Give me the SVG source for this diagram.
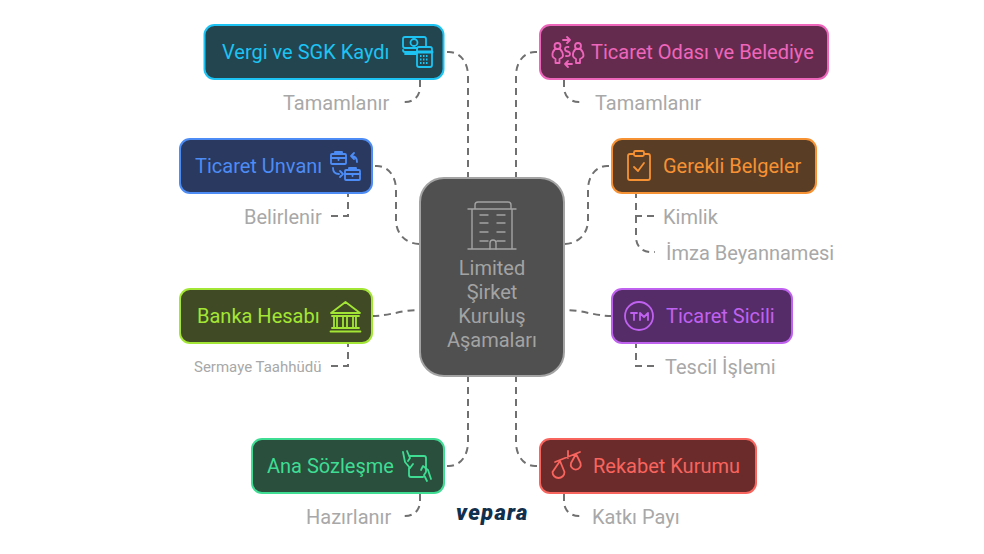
<svg xmlns="http://www.w3.org/2000/svg" width="984" height="554" viewBox="0 0 984 554">
<style>
text{font-family:Roboto,"Liberation Sans",sans-serif;font-size:20px}
.n{stroke-width:2}
.c{fill:none;stroke:#707070;stroke-width:2;stroke-dasharray:7 5}
.s{fill:#a8a8a8}
.i{fill:none;stroke-width:1.8;stroke-linecap:round;stroke-linejoin:round}
</style>
<rect width="984" height="554" fill="#fff"/>
<g id="connectors">
<path class="c" d="M447 52H449C460 52 468 62 468 76V178"/>
<path class="c" d="M537 52H535C524 52 516 62 516 76V178"/>
<path class="c" d="M375 166H377C388 166 396 176 396 190V220C396 234 406 244 420 244"/>
<path class="c" d="M609 166H607C596 166 588 176 588 190V220C588 234 578 244 564 244"/>
<path class="c" d="M372 316C390 316 400 310 420 310"/>
<path class="c" d="M612 316C594 316 584 310 564 310"/>
<path class="c" d="M447 466H449C460 466 468 456 468 442V376"/>
<path class="c" d="M537 466H535C524 466 516 456 516 442V376"/>
<path class="c" d="M420 80V87C420 96 414 102 405 102H402"/>
<path class="c" d="M564 80V87C564 96 570 102 579 102H583"/>
<path class="c" d="M331 216H348V194"/>
<path class="c" d="M654 216H636V194"/>
<path class="c" d="M636 216V237C636 246 642 252 651 252H655"/>
<path class="c" d="M331 366H348V344"/>
<path class="c" d="M654 366H636V344"/>
<path class="c" d="M420 494V501C420 510 414 516 405 516H402"/>
<path class="c" d="M564 494V501C564 510 570 516 579 516H583"/>
</g>
<g id="center">
<rect class="n" x="420" y="178" width="144" height="198" rx="24" fill="#505050" stroke="#a3a3a3"/>
<g class="i" stroke="#a3a3a3" style="stroke-width:1.4">
<path d="M468 209H516M475 209V205Q475 202 478 202H508Q511 202 511 205V209M472 209V249M512 209V249M468 249H516"/>
<path d="M480 215H488M497 215H505M480 223H488M497 223H505M480 232H488M497 232H505M480 241H488M497 241H505M490 249V243Q490 240 493 240Q496 240 496 243V249"/>
</g>
<g fill="#a3a3a3" text-anchor="middle">
<text x="492" y="275">Limited</text>
<text x="492" y="299">Şirket</text>
<text x="492" y="323">Kuruluş</text>
<text x="492" y="347">Aşamaları</text>
</g>
</g>
<g id="vergi">
<rect class="n" x="204.500" y="25" width="239" height="54" rx="10" fill="#22454f" stroke="#1cc3f3"/>
<text x="222" y="59" fill="#1cc3f3">Vergi ve SGK Kaydı</text>
<g class="i" stroke="#1cc3f3">
<rect x="403" y="37" width="23" height="11" rx="2"/>
<circle cx="414" cy="42.500" r="3.500"/>
<path d="M403 50Q403 52 405 52H417M405 54H417"/>
<rect x="417" y="47" width="15" height="20" rx="2" fill="#22454f"/>
<path d="M417 52H432" style="stroke-width:3"/>
<path d="M420 56H429M420 59.500H429M420 63H429" stroke-dasharray="1.500 1.500" stroke-linecap="butt"/>
</g>
</g>
<text class="s" x="283" y="110">Tamamlanır</text>
<g id="odasi">
<rect class="n" x="540" y="25" width="288" height="54" rx="10" fill="#642b4f" stroke="#ee66bb"/>
<text x="591" y="59" fill="#ee66bb">Ticaret Odası ve Belediye</text>
<g class="i" stroke="#ee66bb">
<circle cx="557.500" cy="46" r="3"/><circle cx="578" cy="46" r="3"/>
<path d="M555 49Q552 52 552.500 56Q553 58 555.500 59V63H559.500V59Q562.500 58 563 56Q563 52 560 49ZM575.500 49Q572.500 52 573 56Q573.500 58 576 59V63H580V59Q583 58 583.500 56Q583.500 52 580.500 49Z"/>
<path d="M563 40H570M567 37L570 40L567 43M572 64H565M568 61L565 64L568 67M568.500 47Q565 46.500 565 49Q565 51 567.500 51.500Q570 52 570 54Q570 56.500 566 56"/>
</g>
</g>
<text class="s" x="595" y="110">Tamamlanır</text>
<g id="unvan">
<rect class="n" x="180" y="139" width="192" height="54" rx="10" fill="#29395f" stroke="#4d8cf5"/>
<text x="195" y="173" fill="#4d8cf5">Ticaret Unvanı</text>
<g class="i" stroke="#4d8cf5">
<rect x="331" y="154" width="15" height="10" rx="1"/><path d="M335 154V152H342V154M331 158H346M338.500 158V160"/>
<rect x="345" y="170" width="15" height="10" rx="1"/><path d="M349 170V168H356V170M345 174H360M352.500 174V176"/>
<path d="M357 162Q357 156 351 156M354 153L351 156L354 159M333 168Q333 174 339 174M340 171L343 174L340 177"/>
</g>
</g>
<text class="s" x="244" y="224">Belirlenir</text>
<g id="belgeler">
<rect class="n" x="612" y="139" width="204" height="54" rx="10" fill="#5a3d25" stroke="#f79234"/>
<text x="663" y="173" fill="#f79234">Gerekli Belgeler</text>
<g class="i" stroke="#f79234">
<rect x="628" y="154" width="22" height="26" rx="2"/>
<rect x="634" y="151" width="10" height="5" rx="1.500" fill="#5a3d25"/>
<path d="M634 167L638 171L644 163"/>
</g>
</g>
<text class="s" x="663" y="224">Kimlik</text>
<text class="s" x="666" y="260">İmza Beyannamesi</text>
<g id="banka">
<rect class="n" x="180" y="289" width="192" height="54" rx="10" fill="#404a24" stroke="#a3e635"/>
<text x="197" y="323" fill="#a3e635">Banka Hesabı</text>
<g class="i" stroke="#a3e635">
<path d="M331 313L345.500 302L360 313ZM332 316H359M334 316V327M337 316V327M343 316V327M347 316V327M353 316V327M356 316V327M332 328H359M330.500 331.500H360.500"/>
</g>
</g>
<text class="s" x="194" y="372" style="font-size:15px">Sermaye Taahhüdü</text>
<g id="sicil">
<rect class="n" x="612" y="289" width="180" height="54" rx="10" fill="#552b68" stroke="#c062f0"/>
<text x="666" y="323" fill="#c062f0">Ticaret Sicili</text>
<g class="i" stroke="#c062f0">
<circle cx="639" cy="316" r="14"/>
<path d="M631 313H637M634 313V320M640 320V313L644 317L648 313V320"/>
</g>
</g>
<text class="s" x="665" y="374">Tescil İşlemi</text>
<g id="sozlesme">
<rect class="n" x="252" y="439" width="192" height="54" rx="10" fill="#2a4f3d" stroke="#3fdc94"/>
<text x="267" y="473" fill="#3fdc94">Ana Sözleşme</text>
<g class="i" stroke="#3fdc94">
<path d="M409 456H424Q426 456 426 458V472M409 468V475Q409 477 411 477H423M403 452L405 462L410 468L413 464M407 451L410 458L408 461M431 479L428 470L423 466L421 470M427 481L424 475L426 472"/>
</g>
</g>
<text class="s" x="306" y="524">Hazırlanır</text>
<g id="rekabet">
<rect class="n" x="540" y="439" width="216" height="54" rx="10" fill="#6b2b2b" stroke="#f8645e"/>
<text x="593" y="473" fill="#f8645e">Rekabet Kurumu</text>
<g class="i" stroke="#f8645e">
<path d="M555 462L580 452M568 451V458M552.500 472L560 461L564.500 472A6 6 0 1 1 552.500 472ZM571 463L576 454L580.500 463A5 5 0 1 1 571 463Z"/>
</g>
</g>
<text class="s" x="592" y="524">Katkı Payı</text>
<text id="logo" x="456" y="520" fill="#12304d" style="font-size:22px;font-weight:900;font-style:italic;letter-spacing:1.3px">vepara</text>
</svg>
